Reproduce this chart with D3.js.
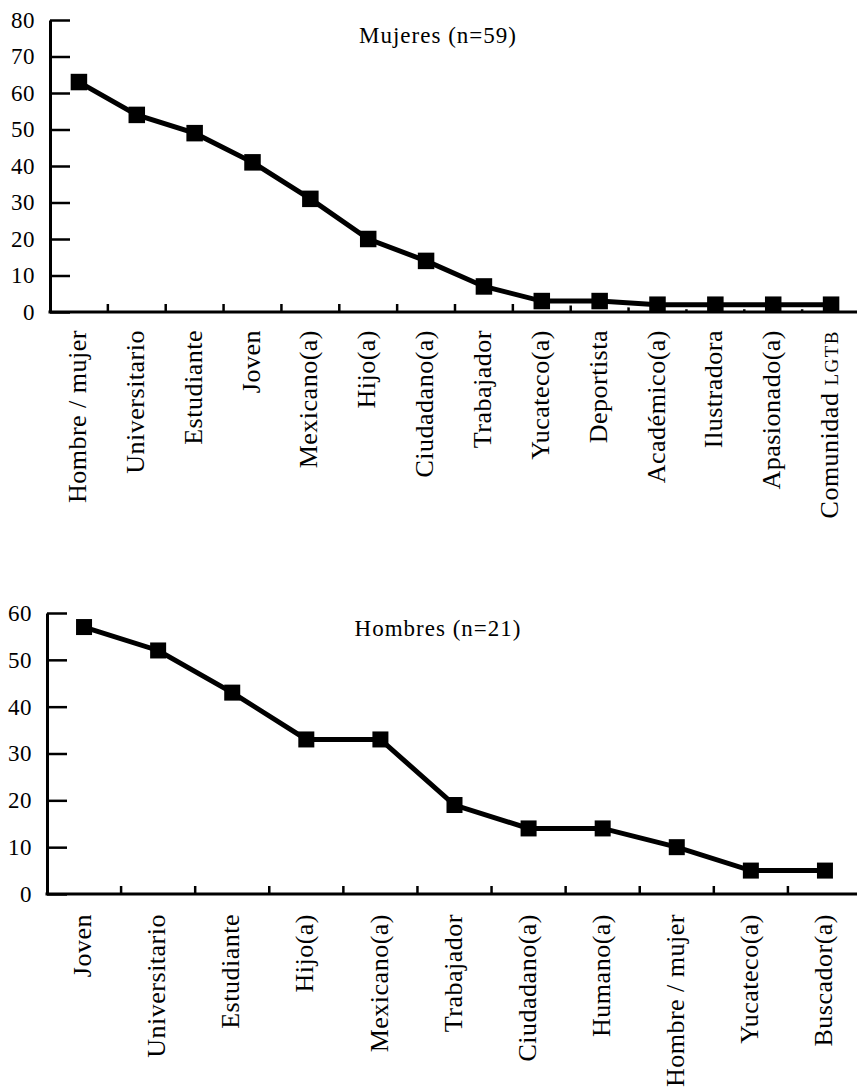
<!DOCTYPE html>
<html>
<head>
<meta charset="utf-8">
<script src="https://cdn.jsdelivr.net/npm/d3@7"></script>
<style>
  html, body { margin: 0; padding: 0; background: #fff; }
  svg { display: block; }
  text { font-family: "Liberation Serif", "DejaVu Serif", serif; fill: #000; }
</style>
</head>
<body>
<svg id="chart" width="857" height="1088"></svg>
<script>
// ---- Data ----
const mujeresTitle = "Mujeres (n=59)";
const mujeresCategories = ["Hombre / mujer", "Universitario", "Estudiante", "Joven", "Mexicano(a)", "Hijo(a)", "Ciudadano(a)", "Trabajador", "Yucateco(a)", "Deportista", "Académico(a)", "Ilustradora", "Apasionado(a)", "Comunidad LGTB"];
const mujeresValues = [63, 54, 49, 41, 31, 20, 14, 7, 3, 3, 2, 2, 2, 2];
const mujeresTicks = [0, 10, 20, 30, 40, 50, 60, 70, 80];

const hombresTitle = "Hombres (n=21)";
const hombresCategories = ["Joven", "Universitario", "Estudiante", "Hijo(a)", "Mexicano(a)", "Trabajador", "Ciudadano(a)", "Humano(a)", "Hombre / mujer", "Yucateco(a)", "Buscador(a)"];
const hombresValues = [57, 52, 43, 33, 33, 19, 14, 14, 10, 5, 5];
const hombresTicks = [0, 10, 20, 30, 40, 50, 60];

const svg = d3.select("#chart");

function drawPanel(cfg) {
  const g = svg.append("g");
  const x = d3.scaleBand().domain(cfg.categories).range([cfg.left, cfg.right]).padding(0);
  const y = d3.scaleLinear().domain([0, d3.max(cfg.ticks)]).range([cfg.bottom, cfg.top]);

  // Y axis
  const yAxis = d3.axisLeft(y).tickValues(cfg.ticks).tickSizeInner(-20).tickSizeOuter(0).tickPadding(15);
  const yg = g.append("g").attr("transform", `translate(${cfg.left},0)`).call(yAxis);
  yg.select(".domain").attr("stroke", "#000").attr("stroke-width", 3);
  yg.selectAll(".tick line").attr("stroke", "#000").attr("stroke-width", 2.5);
  yg.selectAll(".tick text").attr("font-size", 23).attr("fill", "#000").attr("letter-spacing", 0.5);

  // X axis line
  g.append("line")
    .attr("x1", cfg.left - 1.5).attr("x2", 857)
    .attr("y1", y(0)).attr("y2", y(0))
    .attr("stroke", "#000").attr("stroke-width", 3);

  // Boundary ticks (pointing up)
  g.selectAll("line.bt").data(cfg.categories.slice(1)).join("line")
    .attr("class", "bt")
    .attr("x1", d => x(d)).attr("x2", d => x(d))
    .attr("y1", y(0)).attr("y2", y(0) - 8)
    .attr("stroke", "#000").attr("stroke-width", 2.5);

  // X labels
  const xAxis = d3.axisBottom(x).tickSize(0).tickPadding(0);
  const xg = g.append("g").attr("transform", `translate(0,${y(0)})`).call(xAxis);
  xg.select(".domain").remove();
  xg.selectAll(".tick text")
    .attr("font-size", 26)
    .attr("letter-spacing", 0.5)
    .attr("fill", "#000")
    .attr("text-anchor", "end")
    .attr("transform", `translate(-2,${cfg.labelGap}) rotate(-90)`)
    .attr("x", 0).attr("y", 0).attr("dy", "0.35em")
    .each(function(d) {
      const t = d3.select(this);
      if (d.endsWith("LGTB")) {
        t.text(null);
        t.append("tspan").text("Comunidad ");
        t.append("tspan").attr("font-size", 19).attr("letter-spacing", 1.5).text("LGTB");
      }
    });

  // Line with white halo
  const line = d3.line().x(d => x(d.c) + x.bandwidth() / 2).y(d => y(d.v));
  const pts = cfg.categories.map((c, i) => ({ c, v: cfg.values[i] }));
  g.append("path").datum(pts).attr("d", line)
    .attr("fill", "none").attr("stroke", "#fff").attr("stroke-width", 9).attr("stroke-linejoin", "round");
  g.append("path").datum(pts).attr("d", line)
    .attr("fill", "none").attr("stroke", "#000").attr("stroke-width", 5).attr("stroke-linejoin", "miter");

  const s = cfg.marker;
  g.selectAll("rect.m").data(pts).join("rect")
    .attr("class", "m")
    .attr("x", d => x(d.c) + x.bandwidth() / 2 - s / 2)
    .attr("y", d => y(d.v) - s / 2)
    .attr("width", s).attr("height", s)
    .attr("fill", "#000");

  // Title
  g.append("text")
    .attr("x", cfg.titleX).attr("y", cfg.titleY)
    .attr("text-anchor", "middle")
    .attr("font-size", 23)
    .attr("letter-spacing", 1)
    .text(cfg.title);
}

drawPanel({
  title: mujeresTitle, categories: mujeresCategories, values: mujeresValues, ticks: mujeresTicks,
  left: 50, right: 860, top: 20, bottom: 312, labelGap: 18, marker: 16.5,
  titleX: 438, titleY: 43
});

drawPanel({
  title: hombresTitle, categories: hombresCategories, values: hombresValues, ticks: hombresTicks,
  left: 47, right: 862, top: 613, bottom: 894, labelGap: 20, marker: 16,
  titleX: 438, titleY: 636
});
</script>
</body>
</html>
